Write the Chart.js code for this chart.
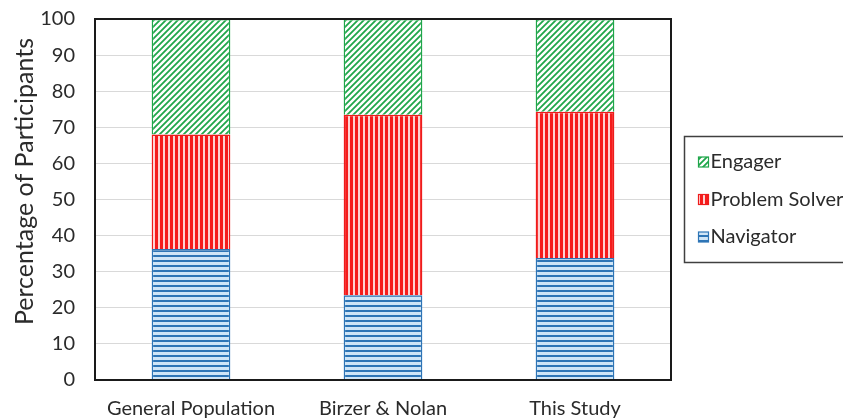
<!DOCTYPE html>
<html>
<head>
<meta charset="utf-8">
<script src="https://cdn.jsdelivr.net/npm/chart.js@4/dist/chart.umd.min.js"></script>
<style>
  html, body { margin: 0; padding: 0; background: #ffffff; }
  #wrap { width: 843px; height: 420px; position: relative; overflow: hidden; }
</style>
</head>
<body>
<div id="wrap"><canvas id="chart" width="843" height="420"></canvas></div>
<script>
// Categories and stacked shares (percent of participants)
const categories = ['General Population', 'Birzer & Nolan', 'This Study'];
const navigator = [36.3, 23.5, 33.8];
const problemSolver = [31.7, 50.0, 40.5];
const engager = [32.0, 26.5, 25.7];
const yTicks = [0, 10, 20, 30, 40, 50, 60, 70, 80, 90, 100];
const yTitle = 'Percentage of Participants';

const FONT = 'Lato, "Open Sans", sans-serif';
const TEXT = '#2b2b2b';

// Small repeating tiles used as hatched fills
function makeTile(w, h, draw) {
  const c = document.createElement('canvas');
  c.width = w; c.height = h;
  draw(c.getContext('2d'), w, h);
  return c;
}
const ctxMain = document.getElementById('chart').getContext('2d');

const diagTile = makeTile(6, 6, (g, w, h) => {
  g.fillStyle = '#ffffff'; g.fillRect(0, 0, w, h);
  g.strokeStyle = '#1fa64a'; g.lineWidth = 1.8; g.lineCap = 'square';
  [[-w, h, w, -h], [0, h, w, 0], [0, 2 * h, 2 * w, 0]].forEach(([x0, y0, x1, y1]) => {
    g.beginPath(); g.moveTo(x0, y0); g.lineTo(x1, y1); g.stroke();
  });
});
const vertTile = makeTile(5, 4, (g, w, h) => {
  g.fillStyle = '#ffd2d2'; g.fillRect(0, 0, w, h);
  g.fillStyle = '#f51c1c'; g.fillRect(0, 0, 3, h);
});
const horzTile = makeTile(4, 5, (g, w, h) => {
  g.fillStyle = '#cfe5f7'; g.fillRect(0, 0, w, h);
  g.fillStyle = '#2e75b6'; g.fillRect(0, 0, w, 2);
});

const engagerFill = ctxMain.createPattern(diagTile, 'repeat');
const solverFill = ctxMain.createPattern(vertTile, 'repeat');
const navigatorFill = ctxMain.createPattern(horzTile, 'repeat');

// Frame around the plot area
const frame = {
  id: 'frame',
  afterDatasetsDraw(chart) {
    const { ctx, chartArea: a } = chart;
    ctx.save();
    ctx.strokeStyle = '#1a1a1a';
    ctx.lineWidth = 2;
    ctx.strokeRect(a.left, a.top, a.right - a.left, a.bottom - a.top);
    ctx.restore();
  }
};

// Rotated value-axis title, centred on the axis including its labels
const axisTitle = {
  id: 'axisTitle',
  afterDraw(chart) {
    const { ctx, chartArea: a } = chart;
    ctx.save();
    ctx.translate(25, (a.top + a.bottom) / 2 - 18);
    ctx.rotate(-Math.PI / 2);
    ctx.font = '25px ' + FONT;
    ctx.fillStyle = TEXT;
    ctx.textAlign = 'center';
    ctx.textBaseline = 'middle';
    ctx.fillText(yTitle, 0, 0);
    ctx.restore();
  }
};

// Boxed legend to the right of the plot, top entry = top of stack
const boxLegend = {
  id: 'boxLegend',
  afterDraw(chart) {
    const { ctx, chartArea: a, width } = chart;
    const left = a.right + 13.5;
    const top = 136.5, bottom = 262.5;
    ctx.save();
    ctx.strokeStyle = '#404040';
    ctx.lineWidth = 1.5;
    ctx.beginPath();
    ctx.moveTo(width + 5, top);
    ctx.lineTo(left, top);
    ctx.lineTo(left, bottom);
    ctx.lineTo(width + 5, bottom);
    ctx.stroke();
    const items = chart.data.datasets.slice().reverse();
    const rowY = [162, 199.5, 237];
    ctx.font = '20px ' + FONT;
    ctx.textBaseline = 'middle';
    items.forEach((ds, i) => {
      const y = rowY[i];
      const bx = left + 14, bs = 10;
      ctx.fillStyle = ds.backgroundColor;
      ctx.fillRect(bx, y - bs / 2, bs, bs);
      ctx.strokeStyle = ds.borderColor;
      ctx.lineWidth = 1.2;
      ctx.strokeRect(bx, y - bs / 2, bs, bs);
      ctx.fillStyle = TEXT;
      ctx.fillText(ds.label, bx + bs + 2, y);
    });
    ctx.restore();
  }
};

new Chart(ctxMain, {
  type: 'bar',
  data: {
    labels: categories,
    datasets: [
      { label: 'Navigator', data: navigator, backgroundColor: navigatorFill, borderColor: '#2e75b6', borderWidth: 1.5 },
      { label: 'Problem Solver', data: problemSolver, backgroundColor: solverFill, borderColor: '#ee1c1c', borderWidth: 1.5 },
      { label: 'Engager', data: engager, backgroundColor: engagerFill, borderColor: '#1fa64a', borderWidth: 1.5 }
    ]
  },
  options: {
    responsive: false,
    animation: false,
    devicePixelRatio: 1,
    layout: { padding: { left: 0, right: 172, top: 19, bottom: 0 } },
    datasets: { bar: { barPercentage: 0.41, categoryPercentage: 1.0 } },
    plugins: {
      legend: { display: false },
      tooltip: { enabled: false }
    },
    scales: {
      x: {
        stacked: true,
        grid: { display: false, drawTicks: false },
        border: { display: true, color: '#1a1a1a', width: 2 },
        ticks: { color: TEXT, font: { family: FONT, size: 20 }, padding: 17, maxRotation: 0 },
        afterFit(scale) { scale.height = 40; }
      },
      y: {
        stacked: true,
        min: 0,
        max: 100,
        afterBuildTicks(scale) { scale.ticks = yTicks.map(v => ({ value: v })); },
        grid: { color: '#d9d9d9', lineWidth: 1, drawTicks: true, tickLength: 20, tickColor: 'rgba(0,0,0,0)' },
        border: { display: true, color: '#1a1a1a', width: 2 },
        ticks: { color: TEXT, font: { family: FONT, size: 20 }, padding: 0 },
        title: { display: false },
        afterFit(scale) { scale.width = 95; }
      }
    }
  },
  plugins: [frame, axisTitle, boxLegend]
});
</script>
</body>
</html>
